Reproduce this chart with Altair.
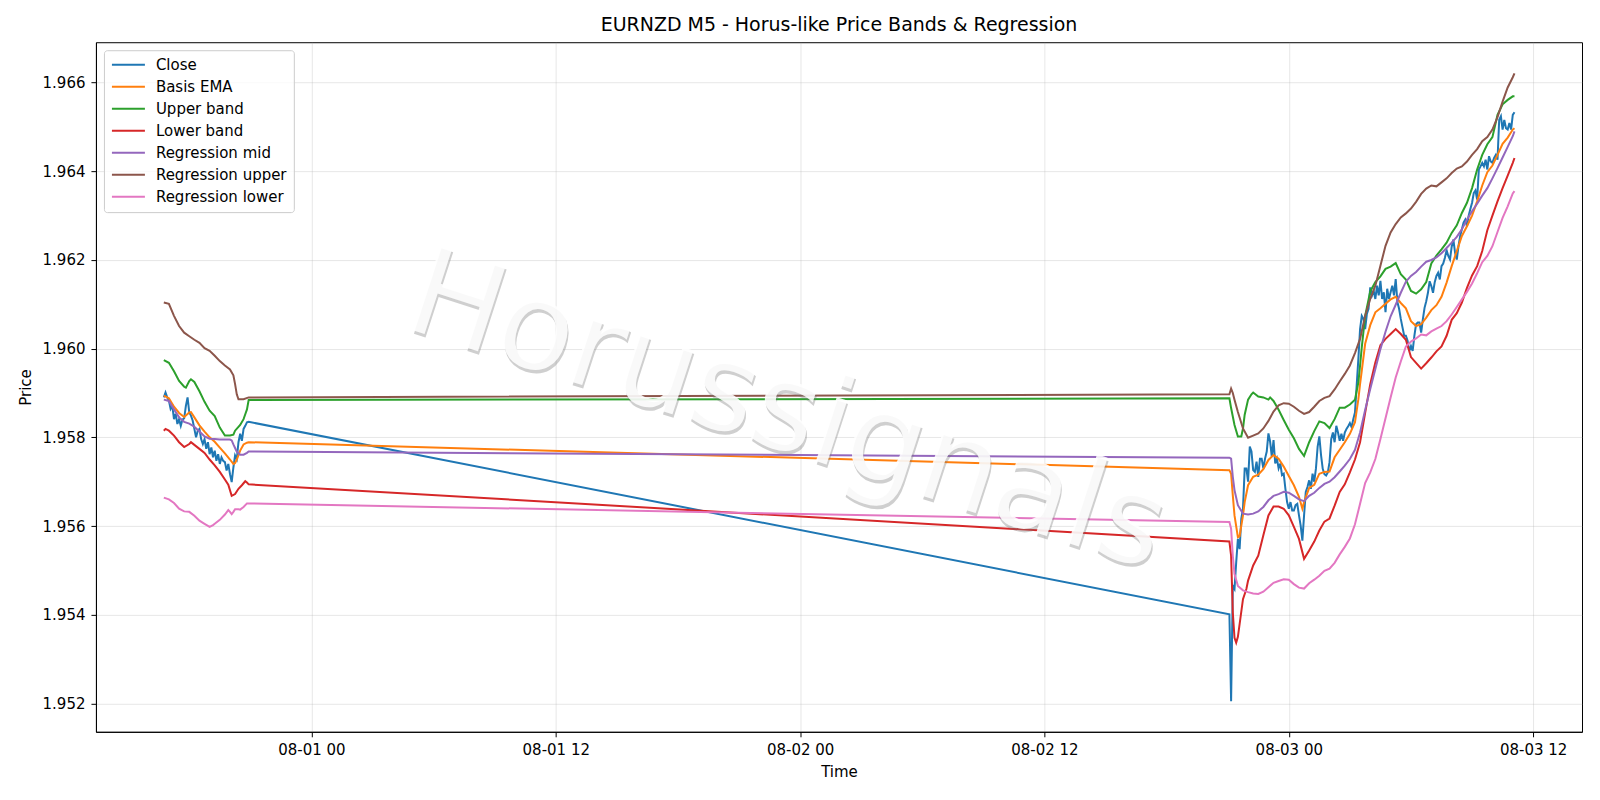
import altair as alt
import pandas as pd

YEAR = 2025
series_names = ["Close", "Basis EMA", "Upper band", "Lower band",
                "Regression mid", "Regression upper", "Regression lower"]
series_colors = ["#1f77b4", "#ff7f0e", "#2ca02c", "#d62728",
                 "#9467bd", "#8c564b", "#e377c2"]
watermark = ["Horussignals"]

# ---- Close (M5 bars) ----
close_seg1_start = "07-31 16:45"
close_seg1 = [
    1.95890, 1.95901, 1.95890,
    1.95883, 1.95864, 1.95871, 1.95841, 1.95853, 1.95830, 1.95841, 1.95826, 1.95840, 1.95843, 1.95871, 1.95890,
    1.95856, 1.95849, 1.95838, 1.95819, 1.95800, 1.95815, 1.95819, 1.95796, 1.95785, 1.95796, 1.95774, 1.95789,
    1.95762, 1.95777, 1.95755, 1.95770, 1.95747, 1.95762, 1.95740, 1.95755, 1.95747, 1.95744, 1.95725, 1.95740,
    1.95717, 1.95699, 1.95732, 1.95759, 1.95751, 1.95789, 1.95808, 1.95792, 1.95819, 1.95826, 1.95834, 1.95835,
]
close_seg2_start = "08-02 21:05"
close_seg2 = [
    1.95401, 1.95205, 1.95465, 1.95458, 1.95518, 1.95571, 1.95548, 1.95616, 1.95639, 1.95730, 1.95730,
    1.95700, 1.95779, 1.95768, 1.95726, 1.95722, 1.95745, 1.95711, 1.95752, 1.95752, 1.95730, 1.95752, 1.95768,
    1.95809, 1.95790, 1.95756, 1.95794, 1.95741, 1.95752, 1.95730, 1.95741, 1.95715, 1.95718, 1.95684, 1.95654,
    1.95639, 1.95654, 1.95635, 1.95635, 1.95647, 1.95650, 1.95624, 1.95601, 1.95567, 1.95624, 1.95677, 1.95688,
    1.95703, 1.95684, 1.95718, 1.95700, 1.95730, 1.95779, 1.95802, 1.95760, 1.95729, 1.95717, 1.95714, 1.95721,
    1.95744, 1.95796, 1.95811, 1.95789, 1.95826, 1.95811, 1.95792, 1.95808, 1.95792, 1.95811, 1.95819, 1.95825,
    1.95832, 1.95823, 1.95841, 1.95856, 1.95917, 1.95977, 1.96044, 1.96074, 1.96067, 1.96044, 1.96078, 1.96090,
    1.96138, 1.96120, 1.96131, 1.96112, 1.96142, 1.96120, 1.96153, 1.96112, 1.96127, 1.96082, 1.96135, 1.96112,
    1.96127, 1.96142, 1.96120, 1.96157, 1.96105, 1.96090, 1.96067, 1.96048, 1.96029, 1.96029, 1.96018, 1.95995,
    1.96006, 1.95995, 1.96029, 1.96055, 1.96059, 1.96059, 1.96036, 1.96066, 1.96092, 1.96107, 1.96126, 1.96152,
    1.96141, 1.96126, 1.96150, 1.96164, 1.96171, 1.96156, 1.96186, 1.96192, 1.96205, 1.96222, 1.96209, 1.96201,
    1.96230, 1.96246, 1.96216, 1.96201, 1.96231, 1.96254, 1.96269, 1.96284, 1.96291, 1.96276, 1.96300, 1.96315,
    1.96329, 1.96351, 1.96357, 1.96336, 1.96404, 1.96411, 1.96419, 1.96411, 1.96426, 1.96404, 1.96434, 1.96422,
    1.96419, 1.96430, 1.96437, 1.96426, 1.96516, 1.96524, 1.96494, 1.96516, 1.96497, 1.96494, 1.96509, 1.96494,
    1.96527, 1.96533,
]

# ---- Basis EMA ----
ema_t = ["07-31 16:45", "07-31 17:00", "07-31 17:15", "07-31 17:30", "07-31 17:45", "07-31 18:00", "07-31 18:05",
         "07-31 18:15", "07-31 18:30", "07-31 18:45", "07-31 19:00", "07-31 19:15", "07-31 19:30", "07-31 19:45",
         "07-31 20:00", "07-31 20:10", "07-31 20:15", "07-31 20:20", "07-31 20:30", "07-31 20:40", "07-31 20:50",
         "07-31 20:55",
         "08-02 21:05", "08-02 21:10", "08-02 21:15", "08-02 21:20", "08-02 21:30", "08-02 21:35", "08-02 21:45",
         "08-02 21:50", "08-02 22:00", "08-02 22:15", "08-02 22:30", "08-02 22:45", "08-02 23:00", "08-02 23:15",
         "08-02 23:30", "08-02 23:45", "08-03 00:00", "08-03 00:15", "08-03 00:30", "08-03 00:40", "08-03 00:45",
         "08-03 01:00", "08-03 01:15", "08-03 01:30", "08-03 01:45", "08-03 02:00", "08-03 02:15", "08-03 02:30",
         "08-03 02:45", "08-03 03:00", "08-03 03:15", "08-03 03:25", "08-03 03:30", "08-03 03:35", "08-03 03:45",
         "08-03 04:00", "08-03 04:15", "08-03 04:30", "08-03 04:45", "08-03 05:00", "08-03 05:15", "08-03 05:30",
         "08-03 05:45", "08-03 06:00", "08-03 06:15", "08-03 06:30", "08-03 06:45", "08-03 07:00", "08-03 07:15",
         "08-03 07:30", "08-03 07:45", "08-03 08:00", "08-03 08:15", "08-03 08:30", "08-03 08:45", "08-03 09:00",
         "08-03 09:15", "08-03 09:30", "08-03 09:45", "08-03 10:00", "08-03 10:15", "08-03 10:30", "08-03 10:45",
         "08-03 11:00", "08-03 11:05"]
ema_v = [1.95894, 1.95888, 1.95869, 1.95855, 1.95846, 1.95856, 1.95857,
         1.95845, 1.95827, 1.95813, 1.95800, 1.95790, 1.95777, 1.95764,
         1.95750, 1.95740, 1.95742, 1.95750, 1.95770, 1.95784, 1.95788,
         1.95789,
         1.95726, 1.95718, 1.95669, 1.95624, 1.95575, 1.95577, 1.95624,
         1.95654, 1.95692, 1.95711, 1.95716, 1.95728, 1.95749, 1.95760,
         1.95752, 1.95734, 1.95713, 1.95692, 1.95666, 1.95639, 1.95654,
         1.95686, 1.95693, 1.95718, 1.95722, 1.95723, 1.95755, 1.95772,
         1.95789, 1.95808, 1.95834, 1.95886, 1.95920, 1.95950, 1.96011,
         1.96053, 1.96082, 1.96091, 1.96101, 1.96111, 1.96117, 1.96103,
         1.96091, 1.96062, 1.96051, 1.96055, 1.96070, 1.96087, 1.96098,
         1.96117, 1.96149, 1.96186, 1.96220, 1.96254, 1.96276, 1.96300,
         1.96332, 1.96368, 1.96398, 1.96413, 1.96437, 1.96462, 1.96476,
         1.96494, 1.96497]

# ---- Upper band ----
upper_t = ["07-31 16:45", "07-31 17:00", "07-31 17:15", "07-31 17:30", "07-31 17:45", "07-31 17:50", "07-31 18:00",
           "07-31 18:05", "07-31 18:15", "07-31 18:30", "07-31 18:45", "07-31 19:00", "07-31 19:15", "07-31 19:30",
           "07-31 19:45", "07-31 20:00", "07-31 20:10", "07-31 20:15", "07-31 20:30", "07-31 20:40", "07-31 20:45",
           "07-31 20:50", "07-31 20:55",
           "08-02 21:05", "08-02 21:10", "08-02 21:15", "08-02 21:20", "08-02 21:30", "08-02 21:40", "08-02 21:45",
           "08-02 21:50", "08-02 22:00", "08-02 22:10", "08-02 22:15", "08-02 22:30", "08-02 22:45", "08-02 23:00",
           "08-02 23:05", "08-02 23:15", "08-02 23:30", "08-02 23:45", "08-03 00:00", "08-03 00:15", "08-03 00:30",
           "08-03 00:45", "08-03 01:00", "08-03 01:15", "08-03 01:30", "08-03 01:45", "08-03 02:00", "08-03 02:15",
           "08-03 02:30", "08-03 02:45", "08-03 03:00", "08-03 03:15", "08-03 03:25", "08-03 03:30", "08-03 03:35",
           "08-03 03:45", "08-03 04:00", "08-03 04:15", "08-03 04:30", "08-03 04:45", "08-03 05:00", "08-03 05:15",
           "08-03 05:30", "08-03 05:45", "08-03 06:00", "08-03 06:15", "08-03 06:30", "08-03 06:45", "08-03 07:00",
           "08-03 07:15", "08-03 07:30", "08-03 07:45", "08-03 08:00", "08-03 08:15", "08-03 08:30", "08-03 08:45",
           "08-03 09:00", "08-03 09:15", "08-03 09:30", "08-03 09:45", "08-03 10:00", "08-03 10:15", "08-03 10:30",
           "08-03 10:45", "08-03 11:00", "08-03 11:05"]
upper_v = [1.95974, 1.95968, 1.95949, 1.95927, 1.95914, 1.95912, 1.95927,
           1.95931, 1.95925, 1.95904, 1.95880, 1.95860, 1.95848, 1.95822,
           1.95804, 1.95804, 1.95806, 1.95815, 1.95828, 1.95841, 1.95852,
           1.95863, 1.95884,
           1.95888, 1.95866, 1.95847, 1.95828, 1.95802, 1.95802, 1.95820,
           1.95851, 1.95885, 1.95897, 1.95901, 1.95892, 1.95890, 1.95885,
           1.95890, 1.95882, 1.95862, 1.95839, 1.95817, 1.95798, 1.95774,
           1.95758, 1.95789, 1.95814, 1.95836, 1.95832, 1.95821, 1.95841,
           1.95867, 1.95867, 1.95874, 1.95885, 1.95924, 1.95962, 1.96003,
           1.96074, 1.96129, 1.96150, 1.96163, 1.96180, 1.96185, 1.96193,
           1.96168, 1.96156, 1.96130, 1.96124, 1.96134, 1.96150, 1.96192,
           1.96210, 1.96224, 1.96239, 1.96261, 1.96278, 1.96306, 1.96329,
           1.96362, 1.96404, 1.96437, 1.96461, 1.96477, 1.96527, 1.96551,
           1.96561, 1.96569, 1.96569]

# ---- Lower band ----
lower_t = ["07-31 16:45", "07-31 16:50", "07-31 17:00", "07-31 17:15", "07-31 17:30", "07-31 17:45", "07-31 18:00",
           "07-31 18:05", "07-31 18:15", "07-31 18:30", "07-31 18:45", "07-31 19:00", "07-31 19:15", "07-31 19:30",
           "07-31 19:45", "07-31 19:55", "07-31 20:05", "07-31 20:15", "07-31 20:25", "07-31 20:35", "07-31 20:45",
           "07-31 20:50", "07-31 20:55",
           "08-02 21:05", "08-02 21:10", "08-02 21:15", "08-02 21:20", "08-02 21:25", "08-02 21:30", "08-02 21:45",
           "08-02 21:55", "08-02 22:00", "08-02 22:15", "08-02 22:30", "08-02 22:45", "08-02 23:00", "08-02 23:15",
           "08-02 23:30", "08-02 23:45", "08-03 00:00", "08-03 00:15", "08-03 00:30", "08-03 00:45", "08-03 01:00",
           "08-03 01:15", "08-03 01:30", "08-03 01:45", "08-03 02:00", "08-03 02:15", "08-03 02:30", "08-03 02:45",
           "08-03 03:00", "08-03 03:15", "08-03 03:30", "08-03 03:45", "08-03 04:00", "08-03 04:15", "08-03 04:30",
           "08-03 04:45", "08-03 05:00", "08-03 05:15", "08-03 05:30", "08-03 05:45", "08-03 06:00", "08-03 06:15",
           "08-03 06:30", "08-03 06:45", "08-03 07:00", "08-03 07:15", "08-03 07:30", "08-03 07:45", "08-03 08:00",
           "08-03 08:15", "08-03 08:30", "08-03 08:45", "08-03 09:00", "08-03 09:15", "08-03 09:30", "08-03 09:45",
           "08-03 10:00", "08-03 10:15", "08-03 10:30", "08-03 10:45", "08-03 11:00", "08-03 11:05"]
lower_v = [1.95815, 1.95819, 1.95815, 1.95804, 1.95789, 1.95778, 1.95785,
           1.95789, 1.95783, 1.95774, 1.95765, 1.95750, 1.95737, 1.95722,
           1.95705, 1.95693, 1.95668, 1.95672, 1.95684, 1.95692, 1.95701,
           1.95698, 1.95694,
           1.95565, 1.95533, 1.95405, 1.95348, 1.95337, 1.95350, 1.95435,
           1.95458, 1.95477, 1.95511, 1.95533, 1.95579, 1.95624, 1.95644,
           1.95644, 1.95639, 1.95624, 1.95598, 1.95571, 1.95526, 1.95545,
           1.95565, 1.95590, 1.95610, 1.95617, 1.95646, 1.95677, 1.95694,
           1.95721, 1.95750, 1.95789, 1.95855, 1.95920, 1.95969, 1.96008,
           1.96022, 1.96033, 1.96044, 1.96033, 1.96020, 1.95981, 1.95968,
           1.95955, 1.95967, 1.95980, 1.95994, 1.96005, 1.96029, 1.96065,
           1.96080, 1.96104, 1.96137, 1.96165, 1.96186, 1.96220, 1.96267,
           1.96300, 1.96332, 1.96362, 1.96390, 1.96419, 1.96430]

# ---- Regression mid ----
rmid_t = ["07-31 16:45", "07-31 17:00", "07-31 17:15", "07-31 17:30", "07-31 17:45", "07-31 18:00", "07-31 18:15",
          "07-31 18:30", "07-31 18:45", "07-31 19:00", "07-31 19:15", "07-31 19:30", "07-31 19:45", "07-31 20:00",
          "07-31 20:05", "07-31 20:10", "07-31 20:15", "07-31 20:20", "07-31 20:30", "07-31 20:40", "07-31 20:50",
          "07-31 20:55",
          "08-02 21:05", "08-02 21:10", "08-02 21:15", "08-02 21:20", "08-02 21:30", "08-02 21:45", "08-02 22:00",
          "08-02 22:15", "08-02 22:30", "08-02 22:45", "08-02 23:00", "08-02 23:15", "08-02 23:30", "08-02 23:45",
          "08-03 00:00", "08-03 00:15", "08-03 00:30", "08-03 00:45", "08-03 01:00", "08-03 01:15", "08-03 01:30",
          "08-03 01:45", "08-03 02:00", "08-03 02:15", "08-03 02:30", "08-03 02:45", "08-03 03:00", "08-03 03:15",
          "08-03 03:30", "08-03 03:45", "08-03 04:00", "08-03 04:15", "08-03 04:30", "08-03 04:45", "08-03 05:00",
          "08-03 05:15", "08-03 05:30", "08-03 05:45", "08-03 06:00", "08-03 06:15", "08-03 06:30", "08-03 06:45",
          "08-03 07:00", "08-03 07:15", "08-03 07:30", "08-03 07:45", "08-03 08:00", "08-03 08:15", "08-03 08:30",
          "08-03 08:45", "08-03 09:00", "08-03 09:15", "08-03 09:30", "08-03 09:45", "08-03 10:00", "08-03 10:15",
          "08-03 10:30", "08-03 10:45", "08-03 11:00", "08-03 11:05"]
rmid_v = [1.95885, 1.95882, 1.95863, 1.95845, 1.95835, 1.95831, 1.95824,
          1.95813, 1.95802, 1.95797, 1.95796, 1.95795, 1.95795, 1.95795,
          1.95793, 1.95784, 1.95776, 1.95768, 1.95761, 1.95761, 1.95765,
          1.95768,
          1.95754, 1.95752, 1.95711, 1.95681, 1.95647, 1.95628, 1.95626,
          1.95628, 1.95633, 1.95643, 1.95658, 1.95668, 1.95672, 1.95677,
          1.95675, 1.95668, 1.95660, 1.95656, 1.95668, 1.95675, 1.95686,
          1.95695, 1.95700, 1.95710, 1.95723, 1.95736, 1.95751, 1.95772,
          1.95811, 1.95862, 1.95909, 1.95954, 1.95999, 1.96038, 1.96073,
          1.96099, 1.96126, 1.96151, 1.96164, 1.96173, 1.96185, 1.96196,
          1.96200, 1.96206, 1.96215, 1.96227, 1.96239, 1.96252, 1.96269,
          1.96291, 1.96310, 1.96327, 1.96345, 1.96362, 1.96384, 1.96407,
          1.96431, 1.96455, 1.96479, 1.96490]

# ---- Regression upper ----
rup_t = ["07-31 16:45", "07-31 17:00", "07-31 17:15", "07-31 17:30", "07-31 17:45", "07-31 18:00", "07-31 18:15",
         "07-31 18:30", "07-31 18:45", "07-31 19:00", "07-31 19:15", "07-31 19:30", "07-31 19:45", "07-31 20:00",
         "07-31 20:10", "07-31 20:15", "07-31 20:20", "07-31 20:25", "07-31 20:40", "07-31 20:55",
         "08-02 21:05", "08-02 21:10", "08-02 21:15", "08-02 21:20", "08-02 21:30", "08-02 21:45", "08-02 22:00",
         "08-02 22:15", "08-02 22:30", "08-02 22:45", "08-02 23:00", "08-02 23:15", "08-02 23:30", "08-02 23:45",
         "08-03 00:00", "08-03 00:15", "08-03 00:30", "08-03 00:45", "08-03 01:00", "08-03 01:15", "08-03 01:30",
         "08-03 01:45", "08-03 02:00", "08-03 02:15", "08-03 02:30", "08-03 02:45", "08-03 03:00", "08-03 03:15",
         "08-03 03:30", "08-03 03:45", "08-03 04:00", "08-03 04:15", "08-03 04:30", "08-03 04:45", "08-03 05:00",
         "08-03 05:15", "08-03 05:30", "08-03 05:45", "08-03 06:00", "08-03 06:15", "08-03 06:30", "08-03 06:45",
         "08-03 07:00", "08-03 07:15", "08-03 07:30", "08-03 07:45", "08-03 08:00", "08-03 08:15", "08-03 08:30",
         "08-03 08:45", "08-03 09:00", "08-03 09:15", "08-03 09:30", "08-03 09:45", "08-03 10:00", "08-03 10:15",
         "08-03 10:30", "08-03 10:45", "08-03 11:00", "08-03 11:05"]
rup_v = [1.96104, 1.96101, 1.96074, 1.96051, 1.96036, 1.96028, 1.96020,
         1.96013, 1.96001, 1.95995, 1.95984, 1.95972, 1.95962, 1.95953,
         1.95940, 1.95920, 1.95897, 1.95886, 1.95886, 1.95890,
         1.95897, 1.95910, 1.95900, 1.95885, 1.95857, 1.95820, 1.95799,
         1.95804, 1.95809, 1.95820, 1.95837, 1.95858, 1.95872, 1.95877,
         1.95876, 1.95869, 1.95860, 1.95853, 1.95857, 1.95869, 1.95882,
         1.95889, 1.95893, 1.95908, 1.95926, 1.95943, 1.95962, 1.95990,
         1.96022, 1.96074, 1.96112, 1.96142, 1.96187, 1.96232, 1.96262,
         1.96281, 1.96296, 1.96305, 1.96316, 1.96331, 1.96349, 1.96361,
         1.96368, 1.96366, 1.96375, 1.96384, 1.96396, 1.96406, 1.96411,
         1.96422, 1.96437, 1.96450, 1.96468, 1.96477, 1.96494, 1.96522,
         1.96557, 1.96589, 1.96612, 1.96621]

# ---- Regression lower ----
rlo_t = ["07-31 16:45", "07-31 17:00", "07-31 17:15", "07-31 17:30", "07-31 17:45", "07-31 18:00", "07-31 18:15",
         "07-31 18:30", "07-31 18:45", "07-31 19:00", "07-31 19:10", "07-31 19:15", "07-31 19:30", "07-31 19:45",
         "07-31 19:55", "07-31 20:00", "07-31 20:05", "07-31 20:10", "07-31 20:15", "07-31 20:25", "07-31 20:30",
         "07-31 20:40", "07-31 20:50", "07-31 20:55",
         "08-02 21:05", "08-02 21:10", "08-02 21:15", "08-02 21:20", "08-02 21:30", "08-02 21:45", "08-02 22:00",
         "08-02 22:15", "08-02 22:30", "08-02 22:45", "08-02 23:00", "08-02 23:15", "08-02 23:30", "08-02 23:45",
         "08-03 00:00", "08-03 00:15", "08-03 00:30", "08-03 00:45", "08-03 01:00", "08-03 01:15", "08-03 01:30",
         "08-03 01:45", "08-03 02:00", "08-03 02:15", "08-03 02:30", "08-03 02:45", "08-03 03:00", "08-03 03:15",
         "08-03 03:30", "08-03 03:45", "08-03 04:00", "08-03 04:15", "08-03 04:30", "08-03 04:45", "08-03 05:00",
         "08-03 05:15", "08-03 05:30", "08-03 05:45", "08-03 06:00", "08-03 06:15", "08-03 06:30", "08-03 06:45",
         "08-03 07:00", "08-03 07:15", "08-03 07:30", "08-03 07:45", "08-03 08:00", "08-03 08:15", "08-03 08:30",
         "08-03 08:45", "08-03 09:00", "08-03 09:15", "08-03 09:30", "08-03 09:45", "08-03 10:00", "08-03 10:15",
         "08-03 10:30", "08-03 10:45", "08-03 11:00", "08-03 11:05"]
rlo_v = [1.95664, 1.95660, 1.95652, 1.95639, 1.95633, 1.95632, 1.95623,
         1.95612, 1.95605, 1.95598, 1.95602, 1.95605, 1.95614, 1.95626,
         1.95636, 1.95632, 1.95627, 1.95632, 1.95638, 1.95638, 1.95637,
         1.95643, 1.95651, 1.95651,
         1.95609, 1.95594, 1.95533, 1.95492, 1.95465, 1.95455, 1.95451,
         1.95448, 1.95447, 1.95452, 1.95462, 1.95472, 1.95476, 1.95480,
         1.95479, 1.95469, 1.95461, 1.95459, 1.95471, 1.95479, 1.95488,
         1.95499, 1.95504, 1.95517, 1.95536, 1.95553, 1.95572, 1.95604,
         1.95650, 1.95697, 1.95721, 1.95751, 1.95796, 1.95843, 1.95890,
         1.95935, 1.95971, 1.96005, 1.96016, 1.96023, 1.96032, 1.96030,
         1.96039, 1.96045, 1.96051, 1.96062, 1.96077, 1.96094, 1.96111,
         1.96128, 1.96147, 1.96170, 1.96195, 1.96209, 1.96231, 1.96263,
         1.96295, 1.96321, 1.96350, 1.96355]

y_ticks = [1.952, 1.954, 1.956, 1.958, 1.960, 1.962, 1.964, 1.966]
x_ticks = ["08-01 00", "08-01 12", "08-02 00", "08-02 12", "08-03 00", "08-03 12"]


def iso(s):
    return f"{YEAR}-{s[:5]}T{s[6:]}:00Z"


rows = []
for start, vals in [(close_seg1_start, close_seg1), (close_seg2_start, close_seg2)]:
    ts = pd.date_range(f"{YEAR}-{start[:5]} {start[6:]}", periods=len(vals), freq="5min")
    for t, v in zip(ts, vals):
        rows.append({"time": t.strftime("%Y-%m-%dT%H:%M:00Z"), "price": v, "series": "Close"})
for name, ts, vs in [("Basis EMA", ema_t, ema_v), ("Upper band", upper_t, upper_v),
                     ("Lower band", lower_t, lower_v), ("Regression mid", rmid_t, rmid_v),
                     ("Regression upper", rup_t, rup_v), ("Regression lower", rlo_t, rlo_v)]:
    for t, v in zip(ts, vs):
        rows.append({"time": iso(t), "price": v, "series": name})
df = pd.DataFrame(rows)


def dt(s):
    return alt.DateTime(year=YEAR, month=int(s[:2]), date=int(s[3:5]),
                        hours=int(s[6:8]), minutes=0, utc=True)


x_scale = alt.Scale(type="utc",
                    domain=[alt.DateTime(year=YEAR, month=7, date=31, hours=13, minutes=25, utc=True),
                            alt.DateTime(year=YEAR, month=8, date=3, hours=14, minutes=24, utc=True)])

lines = alt.Chart(df).mark_line(strokeWidth=2, clip=True).encode(
    x=alt.X("time:T", scale=x_scale, title="Time",
            axis=alt.Axis(values=[dt(s) for s in x_ticks],
                          labelExpr="utcFormat(datum.value, '%m-%d %H')",
                          labelFlush=False, labelOverlap=False, titleY=40, titleBaseline="middle")),
    y=alt.Y("price:Q", scale=alt.Scale(domain=[1.95136, 1.96691], nice=False, zero=False),
            title="Price",
            axis=alt.Axis(values=y_ticks, format=".3f", titleX=-70, titleY=345, titleAngle=-90,
                          titleBaseline="middle", titleAlign="center")),
    color=alt.Color("series:N",
                    scale=alt.Scale(domain=series_names, range=series_colors),
                    legend=alt.Legend(title=None, orient="top-left", offset=8,
                                      symbolType="stroke", symbolSize=1089, symbolStrokeWidth=2,
                                      clipHeight=15, rowPadding=6, labelOffset=10,
                                      labelFontSize=15, labelFont="DejaVu Sans", labelColor="black",
                                      fillColor="rgba(255,255,255,0.8)", strokeColor="#cccccc",
                                      cornerRadius=3, padding=7)),
)

wm_df = pd.DataFrame({"label": watermark})
wm_shadow = alt.Chart(wm_df).mark_text(
    font="DejaVu Sans", fontSize=123, angle=18, color="#777777", opacity=0.35,
    align="center", baseline="middle", dx=2, dy=3,
).encode(text="label:N", x=alt.value(692), y=alt.value(371))
wm_front = alt.Chart(wm_df).mark_text(
    font="DejaVu Sans", fontSize=123, angle=18, color="white", opacity=0.88,
    align="center", baseline="middle",
).encode(text="label:N", x=alt.value(692), y=alt.value(371))

chart = alt.layer(lines, wm_shadow, wm_front).properties(
    width=1487, height=690,
    padding={"left": 88, "top": 34, "right": 10, "bottom": 60},
    autosize=alt.AutoSizeParams(type="none"),
    title=alt.Title("EURNZD M5 - Horus-like Price Bands & Regression", fontSize=19,
                    font="DejaVu Sans", fontWeight="normal", color="black",
                    anchor="middle", frame="group", baseline="alphabetic", offset=9, dy=17),
).configure_view(stroke="black", strokeWidth=1).configure_axis(
    labelFont="DejaVu Sans", labelFontSize=15, labelColor="black", labelPadding=6,
    tickColor="black", tickSize=5, tickWidth=1,
    domainColor="black", domainWidth=1,
    titleFont="DejaVu Sans", titleFontSize=15, titleFontWeight="normal", titleColor="black",
    gridColor="#b0b0b0", gridOpacity=0.3, gridWidth=1,
)

chart.save("out.html", embed_options={"renderer": "svg", "actions": False})
